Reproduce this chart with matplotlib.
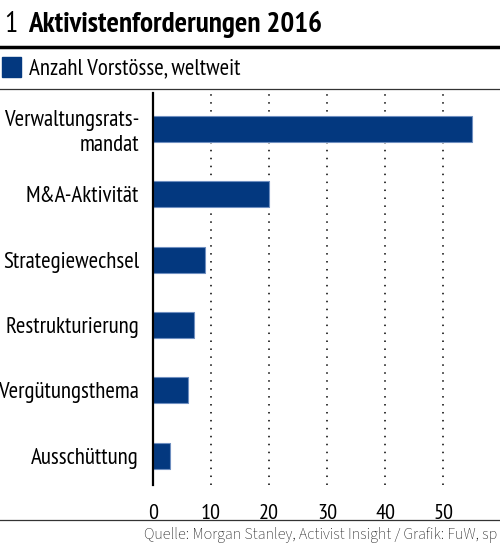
import matplotlib
matplotlib.use("Agg")
import matplotlib.pyplot as plt
from matplotlib import font_manager as fm
from matplotlib.lines import Line2D
from matplotlib.patches import Rectangle

categories = ["Verwaltungsrats-\nmandat", "M&A-Aktivität", "Strategiewechsel",
              "Restrukturierung", "Vergütungsthema", "Ausschüttung"]
values = [55, 20, 9, 7, 6, 3]
xticks = [0, 10, 20, 30, 40, 50]
title_num = "1"
title = "Aktivistenforderungen 2016"
legend_label = "Anzahl Vorstösse, weltweit"
source = "Quelle: Morgan Stanley, Activist Insight / Grafik: FuW, sp"

names = {f.name for f in fm.fontManager.ttflist}
cond = "PT Sans Narrow" if "PT Sans Narrow" in names else "DejaVu Sans"
plain = "Source Sans 3" if "Source Sans 3" in names else "DejaVu Sans"

BAR = "#03387f"
W, H = 500, 545
fig = plt.figure(figsize=(W / 100, H / 100), dpi=100)

def fx(px):
    return px / W

def fy(py):
    return 1 - py / H

ax = fig.add_axes([fx(153), fy(485), fx(500) - fx(153), fy(93) - fy(485)])
y = list(range(len(categories)))
ax.barh(y, values, height=0.4, color=BAR, edgecolor="#6f8fc0", linewidth=0.8, zorder=3)
ax.set_xlim(0, 59.8)
ax.set_ylim(5.45, -0.55)
ax.set_xticks(xticks)
ax.set_xticklabels([str(t) for t in xticks], fontfamily=cond, fontsize=16)
ax.set_yticks(y)
ax.set_yticklabels(categories, fontfamily=cond, fontsize=16.5, linespacing=1.2)
ax.tick_params(axis="both", length=0, colors="black")
ax.tick_params(axis="x", pad=14)
ax.tick_params(axis="y", pad=10)
for lab in ax.get_yticklabels():
    lab.set_horizontalalignment("right")
for t in xticks[1:]:
    ax.axvline(t, color="black", linestyle=(0, (1, 4.2)), linewidth=1.1, zorder=1)
for s in ["top", "right", "bottom"]:
    ax.spines[s].set_visible(False)
ax.spines["left"].set_linewidth(1.6)
ax.spines["left"].set_color("black")
ax.spines["left"].set_zorder(4)

# header
fig.text(fx(4), fy(24), title_num, fontfamily=cond, fontsize=21, va="center", ha="left")
fig.text(fx(28), fy(24), title, fontfamily=cond, fontsize=21, fontweight="bold",
         va="center", ha="left")
fig.add_artist(Line2D([0, 1], [fy(47), fy(47)], color="black", linewidth=2.5))
fig.add_artist(Rectangle((fx(2), fy(77)), fx(19), fy(57) - fy(77), color=BAR))
fig.text(fx(29), fy(69), legend_label, fontfamily=cond, fontsize=16.5, va="center", ha="left")
fig.add_artist(Line2D([0, 1], [fy(89), fy(89)], color="#333333", linewidth=0.9))

# footer
fig.add_artist(Line2D([0, 1], [fy(520), fy(520)], color="#333333", linewidth=0.9))
fig.text(fx(144), fy(535), source, fontfamily=plain, fontsize=11.6, fontweight="normal",
         color="#222222", va="center", ha="left")

fig.savefig("out.png", dpi=100)
